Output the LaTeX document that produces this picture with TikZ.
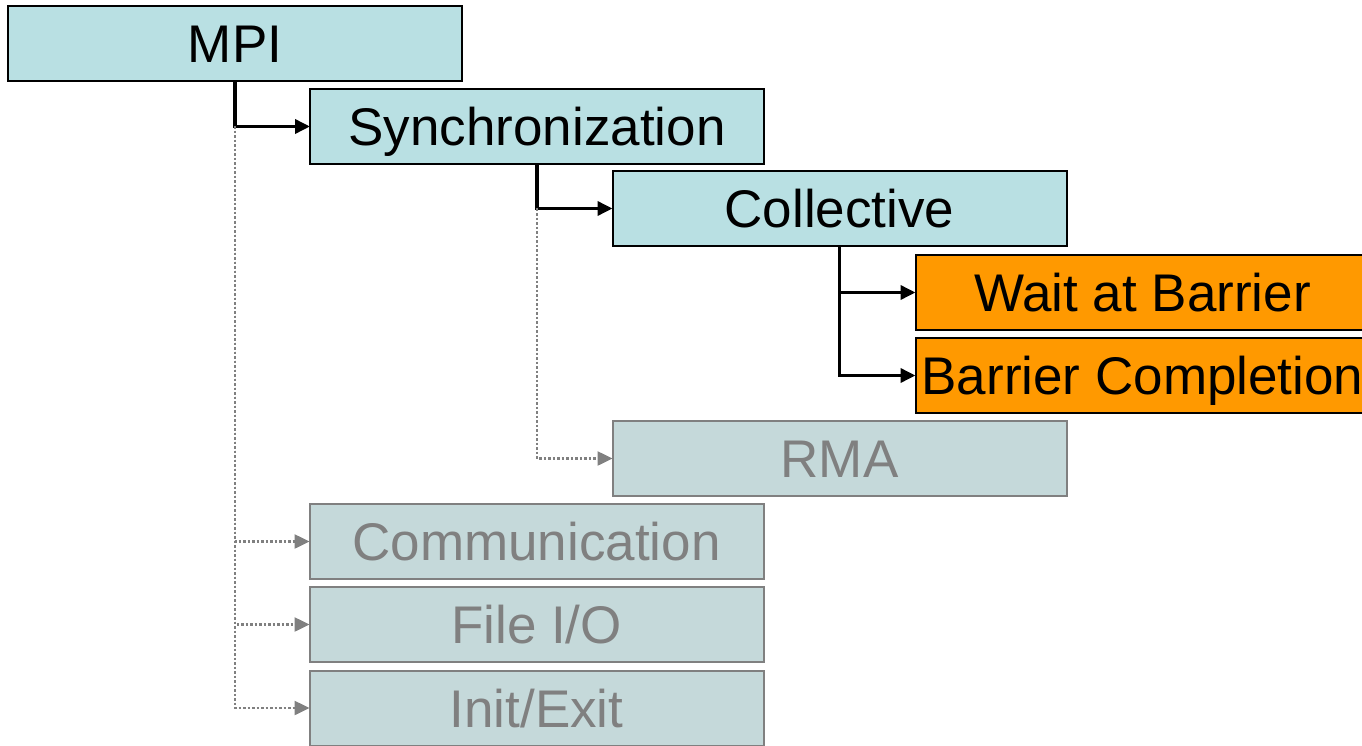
\documentclass[tikz,border=0pt]{standalone}
\usepackage{fontspec}
\setmainfont{Liberation Sans}
\usetikzlibrary{positioning}
\usetikzlibrary{arrows.meta}

\definecolor{boxteal}{HTML}{B9E0E3}
\definecolor{boxgrey}{HTML}{C5D9DA}
\definecolor{textgrey}{HTML}{808080}
\definecolor{boxorange}{HTML}{FF9900}

\begin{document}
\begin{tikzpicture}[
    every node/.style={font=\fontsize{53}{60}\selectfont},
    box/.style={draw=black, line width=2pt, fill=boxteal, minimum width=454pt,
      minimum height=75pt, inner sep=0pt, outer sep=0pt, text height=38pt, text depth=0pt},
    hot/.style={box, fill=boxorange},
    faded/.style={box, draw=textgrey, fill=boxgrey, text=textgrey},
    tree/.style={line width=3.5pt, -{Triangle[length=15pt,width=14pt]}},
    fadedtree/.style={line width=2.5pt, textgrey, dash pattern=on 2.5pt off 2pt,
      -{Triangle[length=15pt,width=14pt]}},
  ]

    \useasboundingbox (0pt,0pt) rectangle (1362pt,-746pt);

    % top level
    \node[box] (MPI) at (235pt,-43.5pt) {MPI};
    \node[box, below right=8pt and -152pt of MPI.south east] (sync) {Synchronization};
    \coordinate (MPI-fork) at (MPI.south |- sync.west);
    \draw[tree] (MPI.south) |- (sync.west);


    % middle level
    \node[box, below right=7pt and -151.5pt of sync.south east] (coll) {Collective};
    \coordinate (sync-fork) at (sync.south |- coll.west);
    \draw[tree] (sync.south) |- (coll.west);


    % bottom level (barrier)
    \node[hot, below right=9pt and -151pt of coll.south east] (wait) {Wait at Barrier};
    \node[hot, below=8pt of wait] (done) {Barrier Completion};
    \draw[tree] (coll.south) |- (wait.west);
    \draw[tree] (coll.south) |- (done.west);


    % greyed out branches
    \node[faded, below=175pt of coll] (rma) {RMA};
    \draw[fadedtree] (sync-fork) |- (rma.west);
    \node[faded, below left=8pt and -151pt of rma.south west] (comm) {Communication};
    \node[faded, below=8pt of comm] (fileio) {File I/O};
    \node[faded, below=8.5pt of fileio] (init) {Init/Exit};
    \draw[fadedtree] (MPI-fork) |- (comm.west);
    \draw[fadedtree] (MPI-fork) |- (fileio.west);
    \draw[fadedtree] (MPI-fork) |- (init.west);

\end{tikzpicture}
\end{document}
